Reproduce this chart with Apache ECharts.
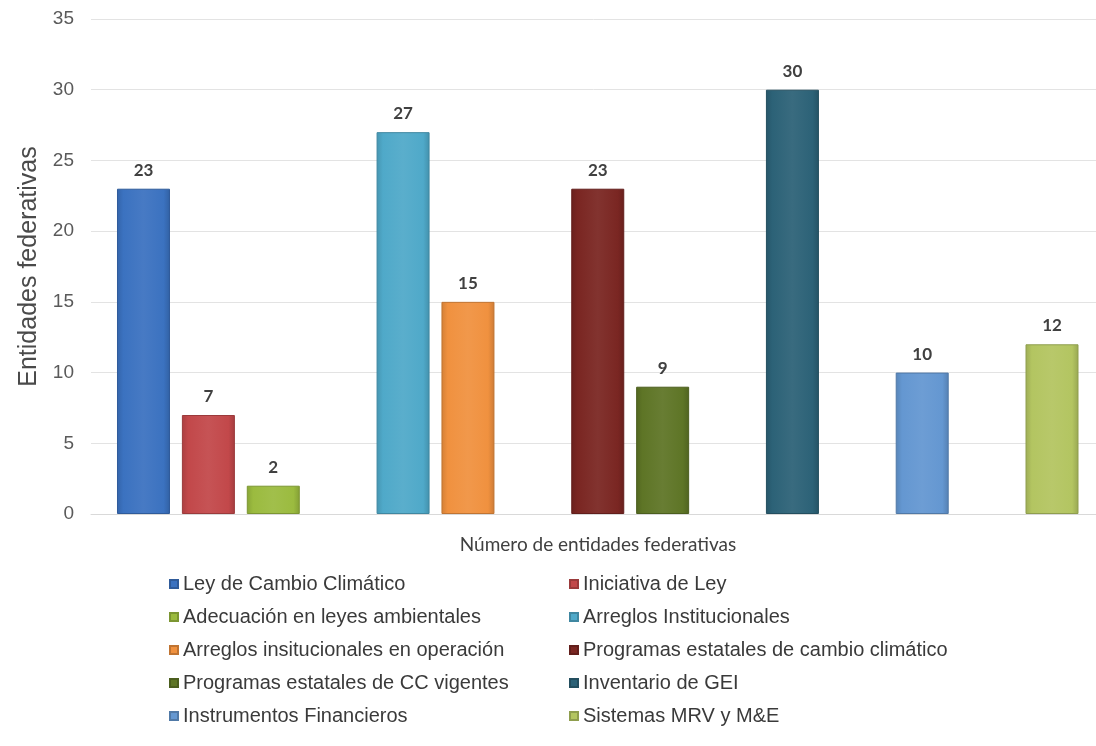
<!DOCTYPE html>
<html>
<head>
<meta charset="utf-8">
<script src="https://cdn.jsdelivr.net/npm/echarts@6/dist/echarts.min.js"></script>
<style>
html,body{margin:0;padding:0;background:#fff;overflow:hidden;}
#chart{width:1096px;height:746px;}
</style>
</head>
<body>
<div id="chart"></div>
<script>
// ---- data ----
var names = [
  'Ley de Cambio Climático',
  'Iniciativa de Ley',
  'Adecuación en leyes ambientales',
  'Arreglos Institucionales',
  'Arreglos insitucionales en operación',
  'Programas estatales de cambio climático',
  'Programas estatales de CC vigentes',
  'Inventario de GEI',
  'Instrumentos Financieros',
  'Sistemas MRV y M&E'
];
var values = [23, 7, 2, 27, 15, 23, 9, 30, 10, 12];
// group index of each bar: a blank slot separates groups
var groups = [0, 0, 0, 1, 1, 2, 2, 3, 4, 5];
var colors = ['#3b72c0', '#c2484a', '#9bbb3f', '#4fa9c9', '#f0913f',
              '#7a2622', '#5e7526', '#2c6277', '#6497d1', '#b3c561'];
var yTicks = [0, 5, 10, 15, 20, 25, 30, 35];
var xTitle = 'Número de entidades federativas';
var yTitle = 'Entidades federativas';

function shade(hex, f) {
  var n = parseInt(hex.slice(1), 16);
  var r = (n >> 16) & 255, g = (n >> 8) & 255, b = n & 255;
  function c(v) {
    v = f >= 0 ? v + (255 - v) * f : v * (1 + f);
    return Math.max(0, Math.min(255, Math.round(v)));
  }
  return 'rgb(' + c(r) + ',' + c(g) + ',' + c(b) + ')';
}

var chart = echarts.init(document.getElementById('chart'), null, {renderer: 'canvas'});

var series = names.map(function (nm, i) {
  var slot = i + groups[i];
  return {
    name: nm,
    type: 'bar',
    barWidth: 53,
    barGap: '-100%',
    data: [[slot, values[i]]],
    itemStyle: {
      color: new echarts.graphic.LinearGradient(0, 0, 1, 0, [
        {offset: 0, color: shade(colors[i], -0.12)},
        {offset: 0.12, color: colors[i]},
        {offset: 0.5, color: shade(colors[i], 0.06)},
        {offset: 0.88, color: colors[i]},
        {offset: 1, color: shade(colors[i], -0.15)}
      ]),
      borderColor: shade(colors[i], -0.2),
      borderWidth: 1
    },
    label: {
      show: true,
      position: 'top',
      distance: 10,
      fontFamily: 'Lato, "Open Sans", sans-serif',
      fontSize: 17,
      fontWeight: 'bold',
      color: '#404040'
    }
  };
});

var legendLeft = [], legendRight = [];
names.forEach(function (nm, i) {
  var item = {name: nm, itemStyle: {color: colors[i]}};
  if (i % 2 === 0) legendLeft.push(item); else legendRight.push(item);
});
var legendCommon = {
  orient: 'vertical',
  top: 569,
  padding: 5,
  itemWidth: 8,
  itemHeight: 8,
  itemGap: 13,
  icon: 'rect',
  textStyle: {
    fontFamily: '"Liberation Sans", Arial, sans-serif',
    fontSize: 20,
    color: '#3a3a3a'
  }
};

chart.setOption({
  animation: false,
  backgroundColor: '#ffffff',
  color: colors,
  grid: {left: 91, right: 0, top: 19, bottom: 232, containLabel: false},
  legend: [
    Object.assign({}, legendCommon, {left: 164, data: legendLeft}),
    Object.assign({}, legendCommon, {left: 564, data: legendRight})
  ],
  xAxis: {
    type: 'value',
    min: -0.809,
    max: 14.678,
    axisLabel: {show: false},
    axisTick: {show: false},
    splitLine: {show: false},
    axisLine: {show: true, lineStyle: {color: '#d9d9d9', width: 1}},
    name: xTitle,
    nameLocation: 'middle',
    nameGap: 21,
    nameTextStyle: {
      fontFamily: 'Lato, "Open Sans", sans-serif',
      fontSize: 19,
      color: '#404040',
      padding: [0, 0, 0, 9]
    }
  },
  yAxis: {
    type: 'value',
    min: yTicks[0],
    max: yTicks[yTicks.length - 1],
    interval: yTicks[1] - yTicks[0],
    axisLine: {show: false},
    axisTick: {show: false},
    axisLabel: {
      margin: 17,
      fontFamily: '"Liberation Sans", Arial, sans-serif',
      fontSize: 19,
      color: '#5a5a5a'
    },
    splitLine: {lineStyle: {color: '#e3e3e3', width: 1}},
    name: yTitle,
    nameLocation: 'middle',
    nameGap: 46,
    nameRotate: 90,
    nameTextStyle: {
      fontFamily: '"Liberation Sans", Arial, sans-serif',
      fontSize: 25,
      color: '#4a4a4a'
    }
  },
  series: series
});
</script>
</body>
</html>
